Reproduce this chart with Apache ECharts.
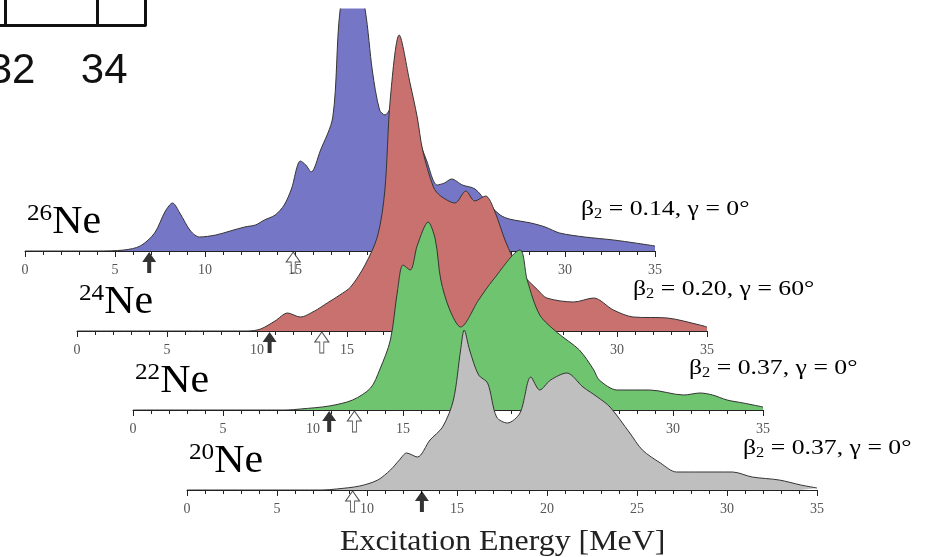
<!DOCTYPE html>
<html><head><meta charset="utf-8">
<script src="https://cdn.jsdelivr.net/npm/echarts@6/dist/echarts.min.js"></script>
<style>html,body{margin:0;padding:0;background:#fff}#c{width:930px;height:557px}</style>
</head><body><div id="c"></div>
<script>
// ---- data (E in MeV, strength in arbitrary units) ----
const nuclei = ['26', '24', '22', '20'];
const deformLabels = ['β₂ = 0.14, γ = 0°', 'β₂ = 0.20, γ = 60°', 'β₂ = 0.37, γ = 0°', 'β₂ = 0.37, γ = 0°'];
const ne26 = [[0,0],[4,0],[5.5,1],[6.4,5],[7.2,18],[7.8,40],[8.2,48],[8.6,38],[9.2,20],[9.7,14],[10.6,16],[11.4,20],[12.2,24],[12.8,26],[13.3,31],[13.9,36],[14.4,46],[14.8,62],[15.3,90],[15.6,86],[15.9,79],[16.4,100],[17.1,134],[17.5,240],[18.2,300],[18.9,241],[19.3,180],[19.7,141],[20.0,136],[20.6,150],[21.1,140],[21.6,124],[22.3,91],[22.9,66],[23.3,68],[23.7,72],[24.3,66],[25.0,62],[25.7,48],[26.4,36],[26.9,32],[28.1,28],[28.9,24],[29.7,18],[31.1,14],[32.7,11],[33.9,8],[35,5]];
const ne24 = [[0,0],[9.5,0],[10.2,2],[11.0,10],[11.7,18],[12.4,14],[13.2,20],[13.9,28],[14.6,36],[15.2,44],[16.0,66],[16.7,95],[17.1,140],[17.4,231],[17.9,296],[18.5,248],[18.9,214],[19.2,181],[19.8,144],[20.2,135],[21.0,128],[21.6,140],[22.1,130],[22.7,135],[23.2,120],[23.8,90],[24.6,60],[25.6,41],[26.1,33],[27.6,29],[28.7,33],[29.8,21],[30.9,14],[32.8,13],[34.6,6],[35,4]];
const ne22 = [[0,0],[8.5,0],[9.3,1],[10.9,4],[12.2,10],[13.2,22],[13.7,40],[14.3,70],[14.7,120],[15.0,145],[15.4,140],[15.8,165],[16.4,188],[16.8,170],[17.1,130],[17.6,100],[18.2,83],[19.2,110],[20.0,130],[21.5,160],[21.9,130],[22.6,95],[23.6,77],[24.8,60],[25.6,40],[25.9,30],[26.9,20],[28.7,20],[30.6,15],[31.5,17],[32.2,15],[33.0,10],[33.9,7],[35,3]];
const ne20 = [[0,0],[7.5,0],[8.3,1],[9.6,4],[10.6,10],[11.3,20],[11.8,30],[12.2,37],[12.8,33],[13.5,50],[14.2,63],[14.8,90],[15.2,140],[15.4,160],[15.7,140],[16.2,115],[16.7,107],[17.2,73],[17.8,67],[18.5,77],[19.1,113],[19.6,100],[20.2,110],[21.1,117],[22.0,103],[22.8,93],[23.5,83],[24.6,57],[25.3,40],[26.3,27],[27.2,18],[28.5,18],[30.3,18],[31.4,13],[32.9,10],[34.1,5],[35,2]];
const spectra = [ne26, ne24, ne22, ne20];
// black and open arrows (MeV)
const blackArrows = [6.9, 10.7, 10.9, 13.05];
const openArrows = [14.9, 13.6, 12.3, 9.2];
const fragTicks = [32, 34];

// ---- layout ----
const fills = ['#7676c6', '#c8716f', '#6fc46f', '#bfbfbf'];
const axLeft = [25, 77, 133, 187];
const axBase = [251, 331, 410, 490];
const pxPerMeV = 18, clipTop = 9;

const grids = [], xAxes = [], yAxes = [], series = [], graphics = [];
const arrowPath = 'path://M7,0 L14,10 L9,10 L9,21 L5,21 L5,10 L0,10 Z';
for (let k = 0; k < 4; k++) {
  const h = axBase[k] - clipTop;
  grids.push({left: axLeft[k], top: clipTop, width: 35 * pxPerMeV, height: h, outerBoundsMode: 'none'});
  xAxes.push({gridIndex: k, type: 'value', min: 0, max: 35, interval: 5, z: 3 * k + 3,
    axisLine: {lineStyle: {color: '#222', width: 1}},
    axisTick: {length: 6, lineStyle: {color: '#222'}},
    minorTick: {show: true, splitNumber: 5, length: 4, lineStyle: {color: '#222'}},
    splitLine: {show: false},
    axisLabel: {fontFamily: 'Liberation Serif', fontSize: 14, color: '#555', margin: 12}
  });
  yAxes.push({gridIndex: k, type: 'value', min: 0, max: h, show: false});
  series.push({type: 'line', xAxisIndex: k, yAxisIndex: k, data: spectra[k], smooth: 0.3,
    showSymbol: false, z: 3 * k + 2, clip: true,
    lineStyle: {color: '#353535', width: 1},
    areaStyle: {color: fills[k], opacity: 1}});
  series.push({type: 'scatter', xAxisIndex: k, yAxisIndex: k, z: 3 * k + 3,
    data: [[blackArrows[k], 0]], symbol: arrowPath, symbolSize: [14, 21], symbolOffset: [0, 11.5],
    itemStyle: {color: '#000'}, clip: false});
  series.push({type: 'scatter', xAxisIndex: k, yAxisIndex: k, z: 3 * k + 3,
    data: [[openArrows[k], 0]], symbol: arrowPath, symbolSize: [14, 21], symbolOffset: [0, 11.5],
    itemStyle: {color: '#fff', borderColor: '#222', borderWidth: 1}, clip: false});
  graphics.push({type: 'text', left: axLeft[k] + 2, top: axBase[k] - 49, z: 100, scaleX: 1.05,
    style: {text: '{s|' + nuclei[k] + '}{n|Ne}', rich: {
      s: {fontFamily: 'Liberation Serif', fontSize: 24, color: '#222', verticalAlign: 'top', padding: [0, 0, 14, 0]},
      n: {fontFamily: 'Liberation Serif', fontSize: 40, color: '#222'}}}});
}
for (let k = 0; k < 4; k++) {
  const parts = deformLabels[k].split('₂');
  graphics.push({type: 'text', left: axLeft[k] + 556, top: axBase[k] - 53, z: 100, scaleX: 1.17,
    style: {text: '{a|' + parts[0] + '}{b|2}{a|' + parts[1] + '}', rich: {
      a: {fontFamily: 'Liberation Serif', fontSize: 22, color: '#333'},
      b: {fontFamily: 'Liberation Serif', fontSize: 14, color: '#333', padding: [10, 0, 0, 0]}}}});
}
graphics.push({type: 'text', left: 340, top: 528, z: 100, scaleX: 1.1,
  style: {text: 'Excitation Energy [MeV]', fontFamily: 'Liberation Serif', fontSize: 29, fill: '#222'}});

// fragment of neighbouring panel (top-left)
grids.push({left: 0, top: -40, width: 145, height: 65, outerBoundsMode: 'none'});
xAxes.push({gridIndex: 4, type: 'value', min: 31.89, max: 35.04,
  axisLine: {lineStyle: {color: '#111', width: 3}},
  axisTick: {inside: true, length: 30, customValues: fragTicks, lineStyle: {color: '#111', width: 3}},
  splitLine: {show: false},
  axisLabel: {fontFamily: 'Liberation Sans', fontSize: 42, color: '#111', margin: 25, padding: [0, 0, 0, 14],
    customValues: fragTicks}});
yAxes.push({gridIndex: 4, type: 'value', position: 'right', min: 0, max: 1,
  axisLine: {show: true, lineStyle: {color: '#111', width: 3}}, axisTick: {show: false},
  axisLabel: {show: false}, splitLine: {show: false}});

const chart = echarts.init(document.getElementById('c'));
chart.setOption({animation: false, grid: grids, xAxis: xAxes, yAxis: yAxes, series: series, graphic: graphics});
</script></body></html>
